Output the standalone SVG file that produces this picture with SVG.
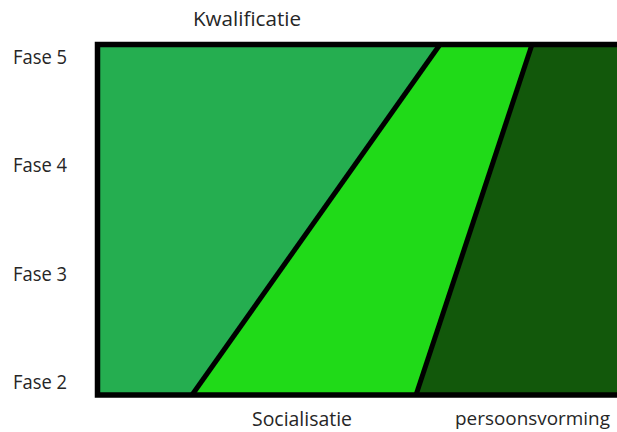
<svg xmlns="http://www.w3.org/2000/svg" width="617" height="432" viewBox="0 0 617 432">
<style>
text{font-family:"Open Sans","Noto Sans",sans-serif;font-size:20px;fill:#262626}
.s{font-size:19px}
.b{stroke:#000;stroke-width:5;fill:none;stroke-linejoin:miter}
</style>
<rect width="617" height="432" fill="#fff"/>
<g id="zone-kwalificatie"><polygon points="98,44.5 440,44.5 192,395 98,395" fill="#25AE50"/></g>
<g id="zone-socialisatie"><polygon points="440,44.5 532,44.5 416,395 192,395" fill="#20DA18"/></g>
<g id="zone-persoonsvorming"><polygon points="532,44.5 625,44.5 625,395 416,395" fill="#12580B"/></g>
<g id="connectors">
<line class="b" x1="440" y1="44.5" x2="192" y2="395"/>
<line class="b" x1="532" y1="44.5" x2="416" y2="395"/>
</g>
<g id="frame"><path class="b" d="M625,44.5 H97.5 V395 H625" style="stroke-width:5.5"/></g>
<g id="labels">
<text x="193" y="26" textLength="108" lengthAdjust="spacingAndGlyphs">Kwalificatie</text>
<text x="13" y="64" textLength="54" lengthAdjust="spacingAndGlyphs">Fase 5</text>
<text x="13" y="172" textLength="54" lengthAdjust="spacingAndGlyphs">Fase 4</text>
<text x="13" y="281" textLength="54" lengthAdjust="spacingAndGlyphs">Fase 3</text>
<text x="13" y="389" textLength="54" lengthAdjust="spacingAndGlyphs">Fase 2</text>
<text x="252" y="426" textLength="100" lengthAdjust="spacingAndGlyphs">Socialisatie</text>
<text class="s" x="455" y="425" textLength="155" lengthAdjust="spacingAndGlyphs">persoonsvorming</text>
</g>
</svg>
